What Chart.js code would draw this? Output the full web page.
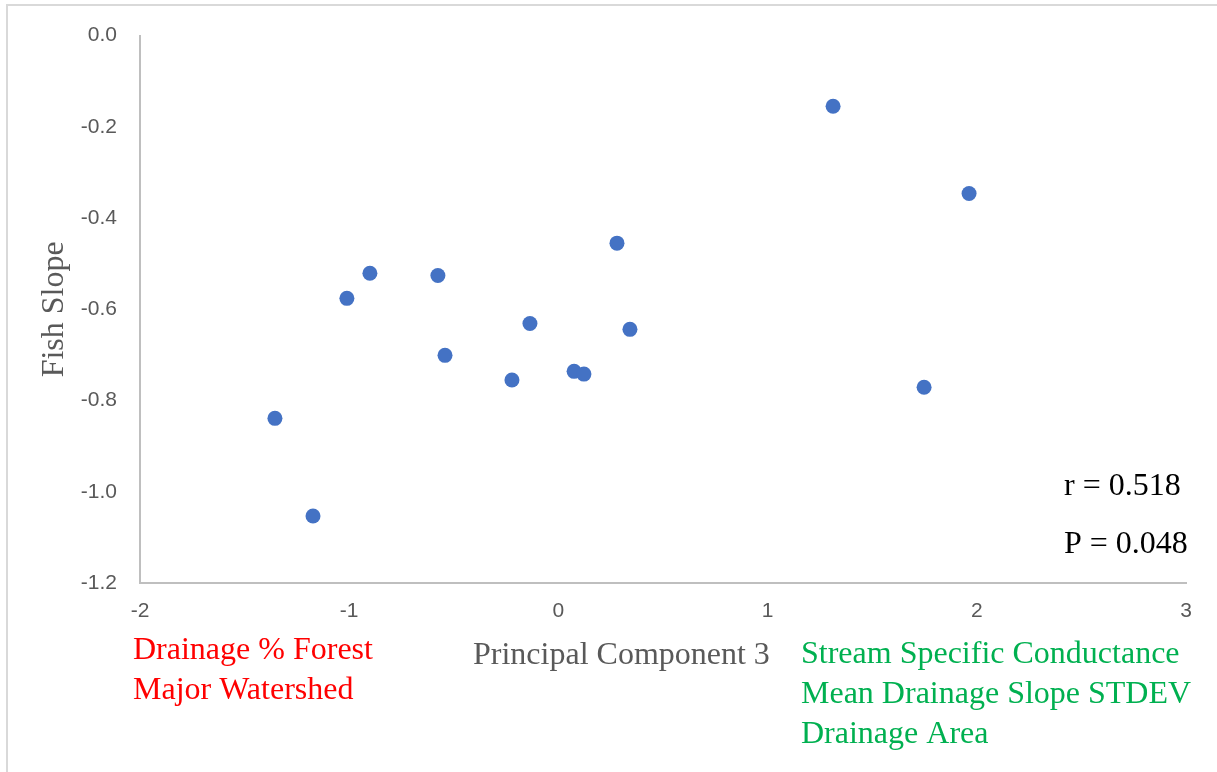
<!DOCTYPE html>
<html>
<head>
<meta charset="utf-8">
<script src="https://cdn.jsdelivr.net/npm/chart.js@4.4.1/dist/chart.umd.min.js"></script>
<style>
  html, body { margin: 0; padding: 0; background: #fff; }
  #wrap { position: relative; width: 1217px; height: 772px; }
</style>
</head>
<body>
<div id="wrap"><canvas id="pc3-fish" width="1217" height="772"></canvas></div>
<script>
// PC3 scores and fish slopes
const pcScores = [1.313, 1.963, 0.280, -0.901, -0.576, -1.011, -0.136, 0.342, -0.542, 0.075, 0.122, -0.222, 1.748, -1.355, -1.173];
const fishSlopes = [-0.155, -0.346, -0.455, -0.521, -0.526, -0.576, -0.631, -0.644, -0.701, -0.736, -0.742, -0.755, -0.771, -0.839, -1.053];

const xTicks = [-2, -1, 0, 1, 2, 3];
const yTicks = [0.0, -0.2, -0.4, -0.6, -0.8, -1.0, -1.2];

const negLabels = ['Drainage % Forest', 'Major Watershed'];
const posLabels = ['Stream Specific Conductance', 'Mean Drainage Slope STDEV', 'Drainage Area'];
const statLabels = ['r = 0.518', 'P = 0.048'];

const serif = '"Liberation Serif", "Times New Roman", serif';
const sans = '"Liberation Sans", Arial, sans-serif';

const points = pcScores.map((x, i) => ({ x: x, y: fishSlopes[i] }));

// extra text around the plot
const notesPlugin = {
    id: 'notes',
    beforeDraw(chart) {
        const c = chart.ctx;
        c.save();
        c.strokeStyle = '#d9d9d9';
        c.lineWidth = 2;
        c.beginPath();
        c.moveTo(7, chart.height);
        c.lineTo(7, 5);
        c.lineTo(chart.width, 5);
        c.stroke();
        c.restore();
    },
    afterDraw(chart) {
        const c = chart.ctx;
        c.save();
        c.font = '32px ' + serif;
        c.textBaseline = 'middle';
        c.textAlign = 'left';

        c.fillStyle = '#595959';
        c.fillText('Principal Component 3', 473, 656);

        c.fillStyle = '#ff0000';
        negLabels.forEach((t, i) => c.fillText(t, 133, 651 + i * 40));

        c.fillStyle = '#00b050';
        posLabels.forEach((t, i) => c.fillText(t, 801, 655 + i * 40));

        c.fillStyle = '#000000';
        statLabels.forEach((t, i) => c.fillText(t, 1064, 487 + i * 58));
        c.restore();
    }
};

const ctx = document.getElementById('pc3-fish').getContext('2d');
const chart = new Chart(ctx, {
    type: 'scatter',
    data: {
        datasets: [{
            label: 'Fish Slope',
            data: points,
            backgroundColor: '#4472c4',
            borderColor: '#4472c4',
            borderWidth: 0,
            pointRadius: 7.5,
            pointHoverRadius: 7.5
        }]
    },
    options: {
        responsive: false,
        animation: false,
        layout: {
            padding: { left: 0, top: 35, right: 31, bottom: 0 }
        },
        plugins: {
            legend: { display: false },
            tooltip: { enabled: false }
        },
        scales: {
            x: {
                type: 'linear',
                min: -2,
                max: 3,
                afterBuildTicks: (axis) => { axis.ticks = xTicks.map(v => ({ value: v })); },
                afterFit: (axis) => { axis.height = 189; },
                grid: { display: false, drawTicks: false },
                border: { display: true, color: '#bfbfbf', width: 2 },
                ticks: {
                    padding: 16,
                    color: '#595959',
                    font: { family: sans, size: 21 },
                    callback: (v) => String(v)
                }
            },
            y: {
                type: 'linear',
                min: -1.2,
                max: 0,
                afterBuildTicks: (axis) => { axis.ticks = yTicks.map(v => ({ value: v })); },
                afterFit: (axis) => { axis.width = 140; },
                grid: { display: false, drawTicks: false },
                border: { display: true, color: '#bfbfbf', width: 2 },
                ticks: {
                    padding: 23,
                    color: '#595959',
                    font: { family: sans, size: 21 },
                    callback: (v) => Number(v).toFixed(1)
                },
                title: {
                    display: true,
                    text: 'Fish Slope',
                    color: '#595959',
                    font: { family: serif, size: 32 },
                    padding: { top: 35, bottom: 0 }
                }
            }
        }
    },
    plugins: [notesPlugin]
});
</script>
</body>
</html>
